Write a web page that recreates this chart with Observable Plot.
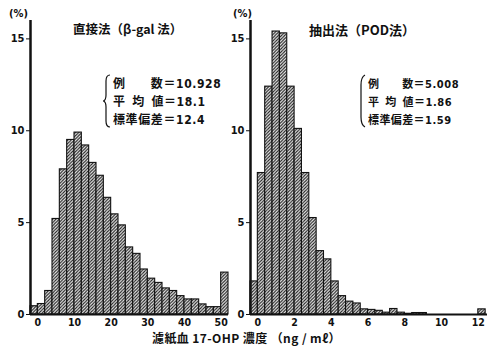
<!DOCTYPE html>
<html>
<head>
<meta charset="utf-8">
<script src="https://cdn.jsdelivr.net/npm/d3@7"></script>
<script src="https://cdn.jsdelivr.net/npm/@observablehq/plot@0.6"></script>
<style>
  html, body { margin: 0; padding: 0; background: #fff; }
  #wrap { position: relative; width: 487px; height: 347px; overflow: hidden; background: #fff;
          font-family: "Noto Sans CJK JP", "Liberation Sans", sans-serif; color: #111; }
  #wrap > svg { position: absolute; top: 0; }
  .lbl { position: absolute; white-space: nowrap; line-height: 1; }
  .stats { position: absolute; white-space: nowrap; }
  .stats div { height: 18px; line-height: 18px; }
</style>
</head>
<body>
<div id="wrap"></div>
<script>
// ---- data ----
// 直接法 (β-gal 法): bin starts (ng/ml), bin width 2
const directBins = [-2, 0, 2, 4, 6, 8, 10, 12, 14, 16, 18, 20, 22, 24, 26, 28, 30, 32, 34, 36, 38, 40, 42, 44, 46, 48, 50];
const directPct  = [0.45, 0.57, 1.28, 5.2, 7.9, 9.5, 9.9, 9.2, 8.25, 7.55, 6.35, 5.45, 4.85, 3.65, 3.3, 2.45, 1.95, 1.72, 1.42, 1.28, 1.0, 0.82, 0.82, 0.55, 0.4, 0.4, 2.28];
// 抽出法 (POD法): bin starts (ng/ml), bin width 0.4
const extractBins = [-0.4, 0, 0.4, 0.8, 1.2, 1.6, 2.0, 2.4, 2.8, 3.2, 3.6, 4.0, 4.4, 4.8, 5.2, 5.6, 6.0, 6.4, 6.8, 7.2, 7.6, 8.0, 8.4, 8.8, 12.0];
const extractPct  = [1.8, 7.7, 12.4, 15.4, 15.3, 12.4, 10.1, 7.7, 5.25, 3.45, 3.0, 1.8, 1.0, 0.7, 0.6, 0.28, 0.25, 0.2, 0.1, 0.3, 0.1, 0.04, 0.08, 0.08, 0.28];
const yTicks = [0, 5, 10, 15];
const directTicks = [0, 10, 20, 30, 40, 50];
const extractTicks = [0, 2, 4, 6, 8, 10, 12];
const titles = ["直接法（β-gal 法）", "抽出法（POD法）"];
const directStats = [["例　　数", "10.928"], ["平\u2002均\u2002値", "18.1"], ["標準偏差", "12.4"]];
const extractStats = [["例　　数", "5.008"], ["平\u2002均\u2002値", "1.86"], ["標準偏差", "1.59"]];
const yUnit = "(%)";
const xTitle = "濾紙血 17-OHP 濃度 （ng / mℓ）";

const directData = directBins.map((b, i) => ({x0: b, x1: b + 2, v: directPct[i]}));
const extractData = extractBins.map((b, i) => ({x0: b, x1: b + 0.4, v: extractPct[i]}));

const wrap = document.getElementById("wrap");
const axisFont = {fontFamily: "'DejaVu Sans Condensed', 'Liberation Sans', sans-serif", fontSize: "11px", color: "#111", background: "transparent", overflow: "visible"};

function addHatch(svg, id) {
  const defs = d3.select(svg).insert("defs", ":first-child");
  const p = defs.append("pattern").attr("id", id).attr("patternUnits", "userSpaceOnUse")
    .attr("width", 3.2).attr("height", 3.2);
  p.append("rect").attr("width", 3.2).attr("height", 3.2).attr("fill", "#eeeeee");
  p.append("path").attr("d", "M-0.8,0.8 L0.8,-0.8 M0,3.2 L3.2,0 M2.4,4 L4,2.4")
    .attr("stroke", "#1a1a1a").attr("stroke-width", 1.05);
}

function panel(data, x0dom, x1dom, ticks, opts) {
  const svg = Plot.plot({
    width: opts.width, height: 330,
    marginLeft: opts.ml, marginRight: opts.mr, marginTop: 20, marginBottom: 16,
    style: axisFont,
    x: {domain: [x0dom, x1dom]},
    y: {domain: [0, 16]},
    marks: [
      Plot.rectY(data, {x1: "x0", x2: "x1", y: "v", fill: "url(#" + opts.id + ")", stroke: "#111", strokeWidth: 1.1}),
      Plot.ruleY([0], {stroke: "#111", strokeWidth: 2}),
      Plot.ruleX([x0dom], {stroke: "#111", strokeWidth: 2.5}),
      Plot.axisY({ticks: yTicks, tickSize: 4, tickPadding: 2, label: null, fontWeight: "bold"}),
      Plot.axisX({ticks: ticks, tickSize: 0, tickPadding: 4, label: null, fontWeight: "bold", fontSize: 10.5})
    ]
  });
  addHatch(svg, opts.id);
  svg.style.left = opts.left + "px";
  wrap.appendChild(svg);
}

panel(directData, -2, 52, directTicks, {width: 237, ml: 30, mr: 9, left: 0, id: "hatchL"});
panel(extractData, -0.4, 12.5, extractTicks, {width: 250, ml: 13, mr: 0, left: 237, id: "hatchR"});

function label(text, left, top, size, extra) {
  const d = document.createElement("div");
  d.className = "lbl";
  d.textContent = text;
  d.style.left = left + "px";
  d.style.top = top + "px";
  d.style.fontSize = size + "px";
  if (extra) Object.assign(d.style, extra);
  wrap.appendChild(d);
  return d;
}

label(yUnit, 9, 8, 11, {fontWeight: "bold", fontFamily: "'DejaVu Sans Condensed', sans-serif"});
label(yUnit, 233, 8, 11, {fontWeight: "bold", fontFamily: "'DejaVu Sans Condensed', sans-serif"});
label(titles[0], 73, 23, 12.5, {fontWeight: "600"});
label(titles[1], 309, 23, 13, {fontWeight: "600"});
label(xTitle, 152, 332, 12, {fontWeight: "600", letterSpacing: "0.4px"});

function stats(rows, left, top, size, spacing) {
  const box = document.createElement("div");
  box.className = "stats";
  box.style.left = left + "px";
  box.style.top = top + "px";
  box.style.fontSize = size + "px";
  box.style.fontWeight = "600";
  rows.forEach(r => {
    const row = document.createElement("div");
    const a = document.createElement("span");
    a.textContent = r[0] + "＝";
    a.style.letterSpacing = spacing + "px";
    const b = document.createElement("span");
    b.textContent = r[1];
    b.style.fontFamily = "'DejaVu Sans Condensed', sans-serif";
    b.style.letterSpacing = "0.6px";
    row.appendChild(a); row.appendChild(b);
    box.appendChild(row);
  });
  wrap.appendChild(box);
}
stats(directStats, 113, 74, 12, 0.6);
stats(extractStats, 368, 74, 11, 0.4);

// braces
const ns = "http://www.w3.org/2000/svg";
function brace(left, curly) {
  const s = document.createElementNS(ns, "svg");
  s.setAttribute("width", 10); s.setAttribute("height", 56);
  s.style.position = "absolute"; s.style.left = left + "px"; s.style.top = 73 + "px";
  const p = document.createElementNS(ns, "path");
  p.setAttribute("d", curly
    ? "M7,2 Q3,2 3,8 L3,22 Q3,27 0.5,28 Q3,29 3,34 L3,48 Q3,54 7,54"
    : "M7,2 Q3,4 3,12 L3,44 Q3,52 7,54");
  p.setAttribute("fill", "none"); p.setAttribute("stroke", "#111"); p.setAttribute("stroke-width", 1.2);
  s.appendChild(p);
  wrap.appendChild(s);
}
brace(103, true);
brace(358, false);
</script>
</body>
</html>
